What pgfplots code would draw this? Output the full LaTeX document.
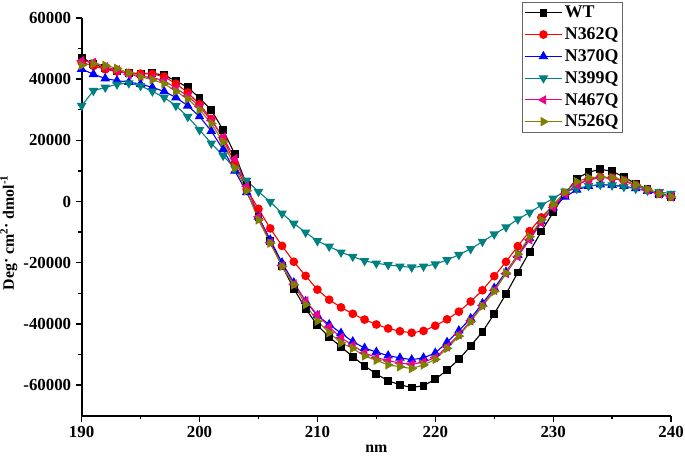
\documentclass[border=0pt]{standalone}
\usepackage{fontspec}
\setmainfont{Liberation Serif}
\usepackage{pgfplots}
\usepackage{pgfplotstable}
\pgfplotsset{compat=1.18}
\definecolor{cteal}{RGB}{0,128,128}
\definecolor{colive}{RGB}{128,128,0}
\pgfplotstableread{
x wt n362 n370 n399 n467 n526
190 47000 45500 43300 31300 46000 44500
191 45000 44300 41600 36200 45500 45000
192 43500 43200 40200 37300 44000 44500
193 42500 42500 39500 38300 43000 43500
194 41900 42000 39000 38700 41500 42000
195 41800 41800 38400 37800 41000 40800
196 41900 41700 37300 36000 40500 39800
197 41300 40800 36000 34000 39500 38500
198 39400 38500 34000 31300 37000 36000
199 37300 35600 31300 27700 34500 33500
200 33800 31800 27800 23400 31000 30000
201 29900 27000 23000 19000 26500 25500
202 23400 20500 17000 15000 21000 19500
203 15400 12500 10000 10800 14000 11000
204 5500 4000 3000 6900 5000 3500
205 -5000 -2400 -5000 3200 -5000 -6000
206 -13000 -8800 -12500 -100 -13500 -13600
207 -21000 -14500 -20000 -3900 -21000 -21200
208 -28500 -19700 -26500 -7200 -27000 -27200
209 -35000 -24300 -32600 -10100 -32500 -33700
210 -40500 -28800 -37300 -12900 -37000 -39100
211 -44300 -32100 -40200 -14700 -41000 -42900
212 -47500 -34600 -43000 -16600 -44500 -46200
213 -50700 -36700 -45800 -18000 -47000 -48000
214 -53700 -38600 -47900 -19400 -49500 -50500
215 -56400 -40200 -49200 -20200 -51000 -51900
216 -58600 -41500 -50400 -20700 -52000 -53400
217 -59900 -42400 -51100 -21200 -52800 -54000
218 -60800 -42900 -51700 -21500 -53200 -54600
219 -60200 -42300 -51100 -21200 -52500 -53400
220 -58100 -40600 -49500 -20500 -51000 -51600
221 -55100 -38500 -46000 -19100 -47500 -48000
222 -51600 -36000 -42200 -17400 -43500 -44000
223 -47200 -32700 -38200 -15500 -39000 -39300
224 -42600 -29000 -33300 -13100 -34000 -34200
225 -36700 -24400 -28300 -10700 -29000 -29400
226 -30200 -19700 -23000 -8400 -23500 -23400
227 -23200 -14600 -17500 -5800 -18000 -17200
228 -16400 -9700 -12000 -3600 -12500 -11500
229 -9800 -5200 -6500 -1200 -7000 -6000
230 -3500 -1300 -2000 1000 -2000 -1000
231 2500 2500 1500 3300 2500 3000
232 7500 5500 3800 4200 5500 6500
233 9600 7200 5000 5100 7000 7800
234 10500 8000 5500 5500 7800 8000
235 9900 7800 5400 5300 7600 7800
236 8000 6800 5000 4800 6800 7000
237 5800 5200 4300 4200 5300 5500
238 4000 3700 3400 3600 3800 4000
239 2500 2500 2500 3100 2500 2500
240 1500 1600 1800 2600 1500 1500
}\datatable
\begin{document}
\begin{tikzpicture}
\path[use as bounding box] (-82bp,-43.5bp) rectangle (606bp,417.5bp);
\begin{axis}[
  at={(0,0)}, anchor=south west,
  scale only axis, width=592bp, height=399.5bp,
  xmin=190, xmax=240, ymin=-70000, ymax=60000,
  scaled x ticks=false, scaled y ticks=false,
  axis lines*=left,
  axis line style={line width=1.8bp},
  xtick={190,200,210,220,230,240},
  xticklabels={190,200,210,220,230,240},
  ytick={-60000,-40000,-20000,0,20000,40000,60000},
  yticklabels={-60000,-40000,-20000,0,20000,40000,60000},
  minor x tick num=1, minor y tick num=1,
  tick align=outside,
  major tick length=6bp, minor tick length=3.5bp,
  every tick/.style={line width=1.3bp, black},
  tick label style={font=\bfseries\fontsize{17}{19}\selectfont},
  xticklabel style={yshift=-1bp},
  yticklabel style={xshift=-1bp},
  xlabel={\textbf{nm}},
  ylabel={\textbf{Deg\raisebox{0.3ex}{·} cm\textsuperscript{2}\raisebox{0.3ex}{·} dmol\textsuperscript{-1}}},
  label style={font=\bfseries\fontsize{16}{18}\selectfont},
  xlabel style={at={(axis description cs:0.5,0)}, anchor=north, yshift=-26bp},
  ylabel style={at={(axis description cs:0,0.46)}, anchor=south, yshift=61bp},
  clip=false,
  legend cell align=left,
  legend style={at={(axis description cs:0.7466,1.04)}, anchor=north west,
    draw=black!60, line width=0.6bp, font=\bfseries\fontsize{18}{20}\selectfont,
    inner sep=2bp, row sep=4.5bp},
  legend image code/.code={\draw[mark repeat=2,mark phase=2] plot coordinates {(0cm,0cm) (0.67cm,0cm) (1.34cm,0cm)};},
  every axis plot/.append style={line width=1.1bp},
]
\addplot[black, mark=square*, mark size=3.4bp] table[x=x,y=wt]{\datatable};
\addlegendentry{WT}
\addplot[red, mark=*, mark size=3.8bp] table[x=x,y=n362]{\datatable};
\addlegendentry{N362Q}
\addplot[blue, mark=triangle*, mark size=4.5bp] table[x=x,y=n370]{\datatable};
\addlegendentry{N370Q}
\addplot[cteal, mark=triangle*, mark size=4.5bp, mark options={rotate=180}] table[x=x,y=n399]{\datatable};
\addlegendentry{N399Q}
\addplot[magenta, mark=triangle*, mark size=4.5bp, mark options={rotate=90}] table[x=x,y=n467]{\datatable};
\addlegendentry{N467Q}
\addplot[colive, mark=triangle*, mark size=4.5bp, mark options={rotate=-90}] table[x=x,y=n526]{\datatable};
\addlegendentry{N526Q}
\end{axis}
\end{tikzpicture}
\end{document}
